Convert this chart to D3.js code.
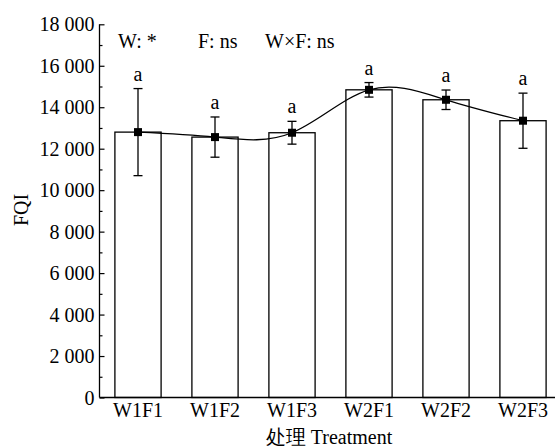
<!DOCTYPE html>
<html><head><meta charset="utf-8">
<script src="https://cdn.jsdelivr.net/npm/d3@7"></script>
<style>body{margin:0;background:#fff}svg{display:block}text{font-family:"Liberation Serif","Times New Roman",serif;fill:#000}</style>
</head><body>
<script>
const categories = ["W1F1","W1F2","W1F3","W2F1","W2F2","W2F3"];
const means = [12800, 12560, 12770, 14840, 14360, 13350];
const errors = [2100, 970, 550, 350, 470, 1330];
const letters = ["a","a","a","a","a","a"];
const yTicks = [0,2000,4000,6000,8000,10000,12000,14000,16000,18000];
const annotations = ["W: *","F: ns","W×F: ns"];

(function(){
const W = 555, H = 448, FS = "20px";
const mLeft = 99.5, mBottom = 397.5, mTop = 24.3;
const svg = d3.select("body").append("svg").attr("width",W).attr("height",H);

const x = d3.scaleBand().domain(categories).range([mLeft, mLeft + 77*6]).paddingInner(0.4).paddingOuter(0.2);
const y = d3.scaleLinear().domain([0,18000]).range([mBottom, mTop]);
const fmt = v => d3.format(",")(v).replace(/,/g," ");

// bars
svg.selectAll("rect.bar").data(categories).enter().append("rect")
  .attr("x", d => x(d)).attr("width", x.bandwidth())
  .attr("y", (d,i) => y(means[i])).attr("height", (d,i) => mBottom - y(means[i]))
  .attr("fill","#fff").attr("stroke","#000").attr("stroke-width",1.3);

// y axis
const yAxis = d3.axisRight(y).tickValues(yTicks).tickSize(5).tickFormat("");
const gy = svg.append("g").attr("transform",`translate(${mLeft},0)`).call(yAxis);
gy.select(".domain").attr("stroke","#000").attr("stroke-width",1.3).attr("d",`M0,${mTop}V${mBottom}`);
gy.selectAll(".tick line").attr("stroke","#000").attr("stroke-width",1.2);
const minor = d3.range(1000,18000,2000);
const yAxisMinor = d3.axisRight(y).tickValues(minor).tickSize(3).tickFormat("");
const gm = svg.append("g").attr("transform",`translate(${mLeft},0)`).call(yAxisMinor);
gm.select(".domain").remove();
gm.selectAll(".tick line").attr("stroke","#000").attr("stroke-width",1.2);
svg.append("g").selectAll("text").data(yTicks).enter().append("text")
  .attr("x", mLeft-5).attr("y", d => y(d)).attr("dy","0.35em")
  .attr("text-anchor","end").style("font-size",FS).text(fmt);

// x axis
const xAxis = d3.axisBottom(x).tickSize(0).tickPadding(5);
const gx = svg.append("g").attr("transform",`translate(0,${mBottom})`).call(xAxis);
gx.select(".domain").attr("stroke","#000").attr("stroke-width",1.3).attr("d",`M${mLeft},0H${W}`);
gx.selectAll("text").style("font-size",FS).style("font-family","Liberation Serif").attr("fill","#000");

// curve
const pts = categories.map((c,i)=>[x(c)+x.bandwidth()/2, y(means[i])]);
svg.append("path").attr("d", d3.line().curve(d3.curveNatural)(pts))
  .attr("fill","none").attr("stroke","#000").attr("stroke-width",1.3);

// error bars
const eg = svg.append("g").attr("stroke","#000").attr("stroke-width",1.3);
categories.forEach((c,i)=>{
  const cx = x(c)+x.bandwidth()/2;
  const y1 = y(means[i]+errors[i]), y2 = y(means[i]-errors[i]);
  eg.append("line").attr("x1",cx).attr("x2",cx).attr("y1",y1).attr("y2",y2);
  eg.append("line").attr("x1",cx-4.5).attr("x2",cx+4.5).attr("y1",y1).attr("y2",y1);
  eg.append("line").attr("x1",cx-4.5).attr("x2",cx+4.5).attr("y1",y2).attr("y2",y2);
});
// markers
svg.selectAll("rect.mk").data(pts).enter().append("rect")
  .attr("x",d=>d[0]-4).attr("y",d=>d[1]-4).attr("width",8).attr("height",8).attr("fill","#000");
// letters
svg.selectAll("text.let").data(categories).enter().append("text")
  .attr("x", d => x(d)+x.bandwidth()/2).attr("y",(d,i)=>y(means[i]+errors[i])-8)
  .attr("text-anchor","middle").style("font-size",FS).text((d,i)=>letters[i]);

// annotations
const ax = [118, 198, 265];
svg.selectAll("text.ann").data(annotations).enter().append("text")
  .attr("x",(d,i)=>ax[i]).attr("y",48).style("font-size",FS).text(d=>d);

// axis titles
svg.append("text").attr("transform","translate(28,210) rotate(-90)").attr("text-anchor","middle")
  .style("font-size",FS).text("FQI");
svg.append("text").attr("x",329).attr("y",444).attr("text-anchor","middle")
  .style("font-size",FS).text("处理 Treatment");
})();
</script>
</body></html>
